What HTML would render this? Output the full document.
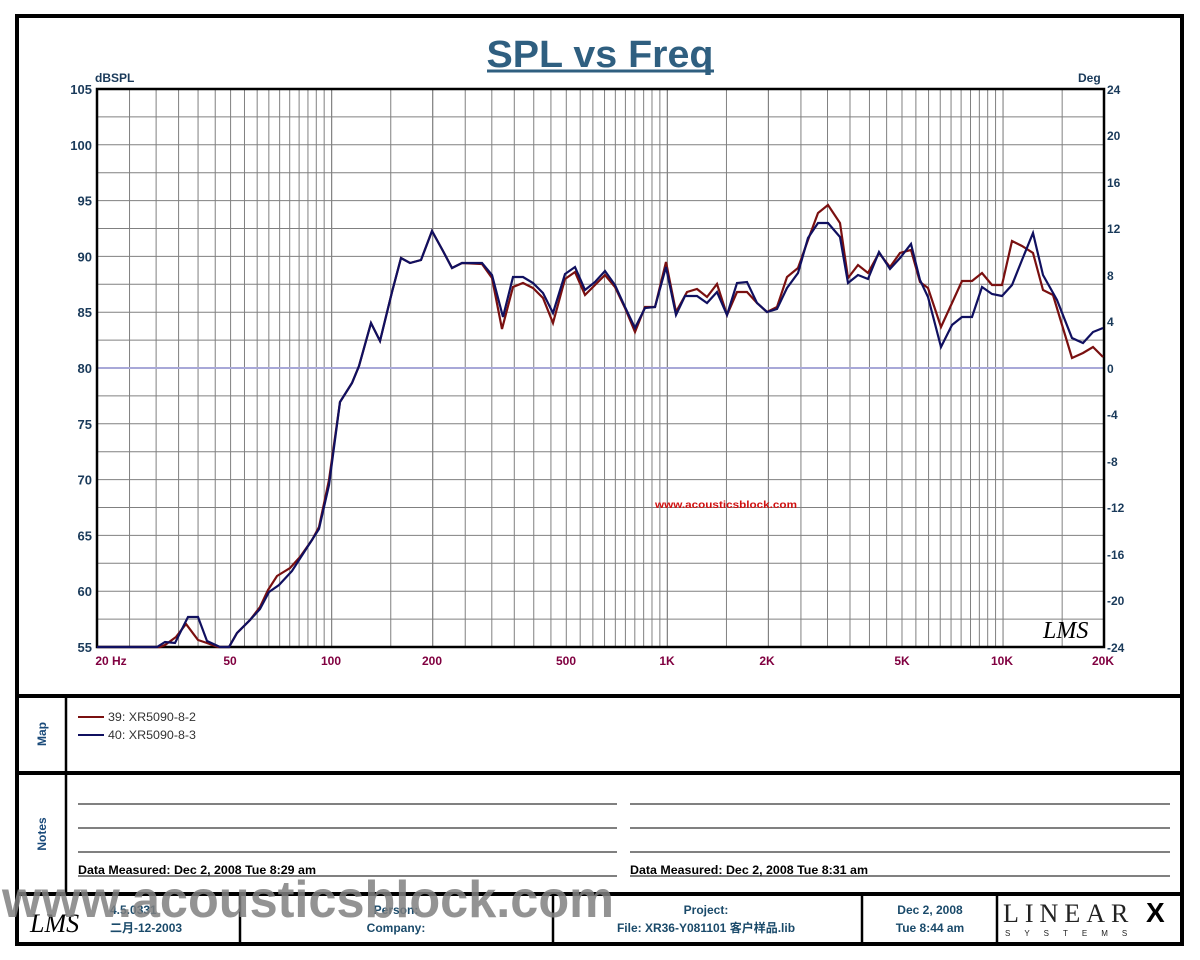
<!DOCTYPE html>
<html><head><meta charset="utf-8"><style>
body{margin:0;background:#fff;}
svg{display:block;font-family:"Liberation Sans","Noto Sans CJK SC",sans-serif;}
</style></head><body>
<svg id="s" width="1200" height="960" viewBox="0 0 1200 960" xmlns="http://www.w3.org/2000/svg">
<rect x="0" y="0" width="1200" height="960" fill="#fff"/>
<g id="grid" stroke="#808080" stroke-width="1"></g>
<line x1="97" y1="368" x2="1104" y2="368" stroke="#a8a8d8" stroke-width="2"/>
<rect x="97" y="89" width="1007" height="558" fill="none" stroke="#000" stroke-width="2.5"/>
<text x="600" y="67" text-anchor="middle" font-size="38" font-weight="bold" fill="#2f5f80" textLength="227" lengthAdjust="spacingAndGlyphs">SPL vs Freq</text>
<line x1="487" y1="71" x2="714" y2="71" stroke="#2f5f80" stroke-width="3"/>
<text x="95" y="82" font-size="12" font-weight="bold" fill="#1a3a5a">dBSPL</text>
<text x="1078" y="82" font-size="12" font-weight="bold" fill="#1a3a5a">Deg</text>
<g id="ly" font-size="13" font-weight="bold" fill="#1a3a5a" text-anchor="end"></g>
<g font-size="12" font-weight="bold" fill="#1a3a5a">
<text x="1107" y="94">24</text><text x="1107" y="140">20</text><text x="1107" y="187">16</text><text x="1107" y="233">12</text><text x="1107" y="280">8</text><text x="1107" y="326">4</text><text x="1107" y="373">0</text><text x="1107" y="419">-4</text><text x="1107" y="466">-8</text><text x="1107" y="512">-12</text><text x="1107" y="559">-16</text><text x="1107" y="605">-20</text><text x="1107" y="652">-24</text>
</g>
<g font-size="12" font-weight="bold" fill="#800040" text-anchor="middle">
<text x="111" y="665">20  Hz</text><text x="230" y="665">50</text><text x="331" y="665">100</text><text x="432" y="665">200</text><text x="566" y="665">500</text><text x="667" y="665">1K</text><text x="767" y="665">2K</text><text x="902" y="665">5K</text><text x="1002" y="665">10K</text><text x="1103" y="665">20K</text>
</g>
<text x="655" y="508" font-size="10" font-weight="bold" fill="#d01010" textLength="142" lengthAdjust="spacingAndGlyphs">www.acousticsblock.com</text>
<text x="1043" y="638" font-size="24" font-style="italic" fill="#000" font-family="Liberation Serif,serif">LMS</text>
<polyline fill="none" stroke="#7a1010" stroke-width="2.2" points="97,647 160,647 165,645 176,637 186,624 198,640 207,643 218,647 229,647 237,633 250,620 260,607 268,590 277,576 290,568 300,557 312,540 319,527 329,480 340,402 352,383 359,366 371,323 380,341 392,292 401,258 410,263 421,260 432,231 443,251 452,268 462,263 482,264 492,278 502,329 513,287 523,283 533,288 543,298 553,323 565,279 575,272 585,295 595,285 605,275 615,287 625,308 635,332 645,307 655,307 666,262 676,312 687,292 697,289 707,297 717,284 727,315 737,292 747,292 757,303 767,312 777,307 787,277 798,268 808,240 818,213 828,205 840,223 848,278 858,265 868,273 879,253 890,267 900,253 911,250 920,282 928,288 941,327 952,303 962,281 972,281 982,273 992,285 1002,285 1012,241 1022,246 1033,253 1043,290 1053,295 1072,358 1083,353 1093,347 1103,357"/>
<polyline fill="none" stroke="#101060" stroke-width="2.2" points="97,647 157,647 165,642 175,643 188,617 198,617 207,641 220,647 229,647 237,633 250,620 260,609 269,592 279,585 292,571 310,543 319,529 329,485 340,402 352,383 359,366 371,323 380,341 392,292 401,258 410,263 421,260 432,231 443,251 452,268 462,263 482,263 492,275 503,317 513,277 523,277 533,283 543,293 553,313 565,274 575,267 585,290 595,282 605,271 615,285 625,307 635,328 645,308 655,307 666,267 676,315 685,296 697,296 707,303 717,292 727,315 737,283 747,282 757,303 767,312 777,309 787,288 798,273 808,238 818,223 828,223 840,237 848,283 858,275 868,279 879,252 890,269 900,258 911,244 920,280 928,297 941,347 952,325 962,317 972,317 982,287 992,294 1002,296 1012,285 1022,260 1033,233 1043,275 1057,300 1072,338 1083,343 1093,332 1103,328"/>
<g stroke="#000" stroke-width="4" fill="none">
<rect x="17" y="16" width="1165" height="928"/>
<line x1="17" y1="696" x2="1182" y2="696"/>
<line x1="17" y1="773" x2="1182" y2="773"/>
<line x1="17" y1="894" x2="1182" y2="894"/>
<line x1="66" y1="696" x2="66" y2="894" stroke-width="2.5"/>
<line x1="240" y1="894" x2="240" y2="944" stroke-width="2.5"/>
<line x1="553" y1="894" x2="553" y2="944" stroke-width="2.5"/>
<line x1="862" y1="894" x2="862" y2="944" stroke-width="2.5"/>
<line x1="997" y1="894" x2="997" y2="944" stroke-width="2.5"/>
</g>
<text transform="translate(46,734) rotate(-90)" text-anchor="middle" font-size="12" font-weight="bold" fill="#1a4a7a">Map</text>
<text transform="translate(46,834) rotate(-90)" text-anchor="middle" font-size="12" font-weight="bold" fill="#1a4a7a">Notes</text>
<line x1="78" y1="717" x2="104" y2="717" stroke="#7a1010" stroke-width="2"/>
<line x1="78" y1="735" x2="104" y2="735" stroke="#101060" stroke-width="2"/>
<text x="108" y="721" font-size="12" fill="#333" textLength="88" lengthAdjust="spacingAndGlyphs">39: XR5090-8-2</text>
<text x="108" y="739" font-size="12" fill="#333" textLength="88" lengthAdjust="spacingAndGlyphs">40: XR5090-8-3</text>
<g stroke="#000" stroke-width="1">
<line x1="78" y1="804" x2="617" y2="804"/><line x1="78" y1="828" x2="617" y2="828"/><line x1="78" y1="852" x2="617" y2="852"/><line x1="78" y1="876" x2="617" y2="876"/>
<line x1="630" y1="804" x2="1170" y2="804"/><line x1="630" y1="828" x2="1170" y2="828"/><line x1="630" y1="852" x2="1170" y2="852"/><line x1="630" y1="876" x2="1170" y2="876"/>
</g>
<text x="78" y="874" font-size="12" font-weight="bold" fill="#000" textLength="238" lengthAdjust="spacingAndGlyphs">Data Measured: Dec  2, 2008  Tue  8:29 am</text>
<text x="630" y="874" font-size="12" font-weight="bold" fill="#000" textLength="238" lengthAdjust="spacingAndGlyphs">Data Measured: Dec  2, 2008  Tue  8:31 am</text>
<g font-size="12" font-weight="bold" fill="#1a4a6a" text-anchor="middle">
<text x="396" y="914">Person:</text><text x="396" y="932">Company:</text>
<text x="706" y="914">Project:</text><text x="706" y="932">File: XR36-Y081101 客户样品.lib</text>
<text x="930" y="914">Dec  2, 2008</text><text x="930" y="932">Tue  8:44 am</text>
</g>
<text x="110" y="914" font-size="12" font-weight="bold" fill="#1a4a6a">4.5.0331</text>
<text x="110" y="932" font-size="12" font-weight="bold" fill="#1a4a6a">二月-12-2003</text>
<text x="30" y="932" font-size="26" font-style="italic" fill="#000" font-family="Liberation Serif,serif">LMS</text>
<text x="1003" y="922" font-size="26" fill="#222" font-family="Liberation Serif,serif" letter-spacing="6">LINEAR</text>
<text x="1146" y="922" font-size="28" font-weight="bold" fill="#000">X</text>
<text x="1005" y="936" font-size="8" fill="#222" letter-spacing="14">SYSTEMS</text>
<text x="2" y="917" font-size="52" font-weight="bold" fill="#808080" fill-opacity="0.85" textLength="612" lengthAdjust="spacingAndGlyphs">www.acousticsblock.com</text>
</svg>
<script>
var NS="http://www.w3.org/2000/svg";
function X(f){return 97+335.7*Math.log10(f/20);}
var g=document.getElementById('grid');
function ln(x1,y1,x2,y2){var l=document.createElementNS(NS,'line');l.setAttribute('x1',x1);l.setAttribute('y1',y1);l.setAttribute('x2',x2);l.setAttribute('y2',y2);g.appendChild(l);}
var fs=[];
[[20,100,5],[100,200,50],[200,1000,50],[1000,2000,500],[2000,10000,500],[10000,20000,5000]].forEach(function(r){for(var f=r[0];f<r[1]+0.1;f+=r[2])fs.push(f);});
fs.forEach(function(f){var x=X(f);ln(x,89,x,647);});
for(var i=1;i<20;i++){var y=89+i*27.9;ln(97,y,1104,y);}
var ly=document.getElementById('ly');
for(var i=0;i<=10;i++){var y=89+i*55.8;var t=document.createElementNS(NS,'text');t.setAttribute('x',92);t.setAttribute('y',y+5);t.textContent=105-5*i;ly.appendChild(t);}
</script>
</body></html>
